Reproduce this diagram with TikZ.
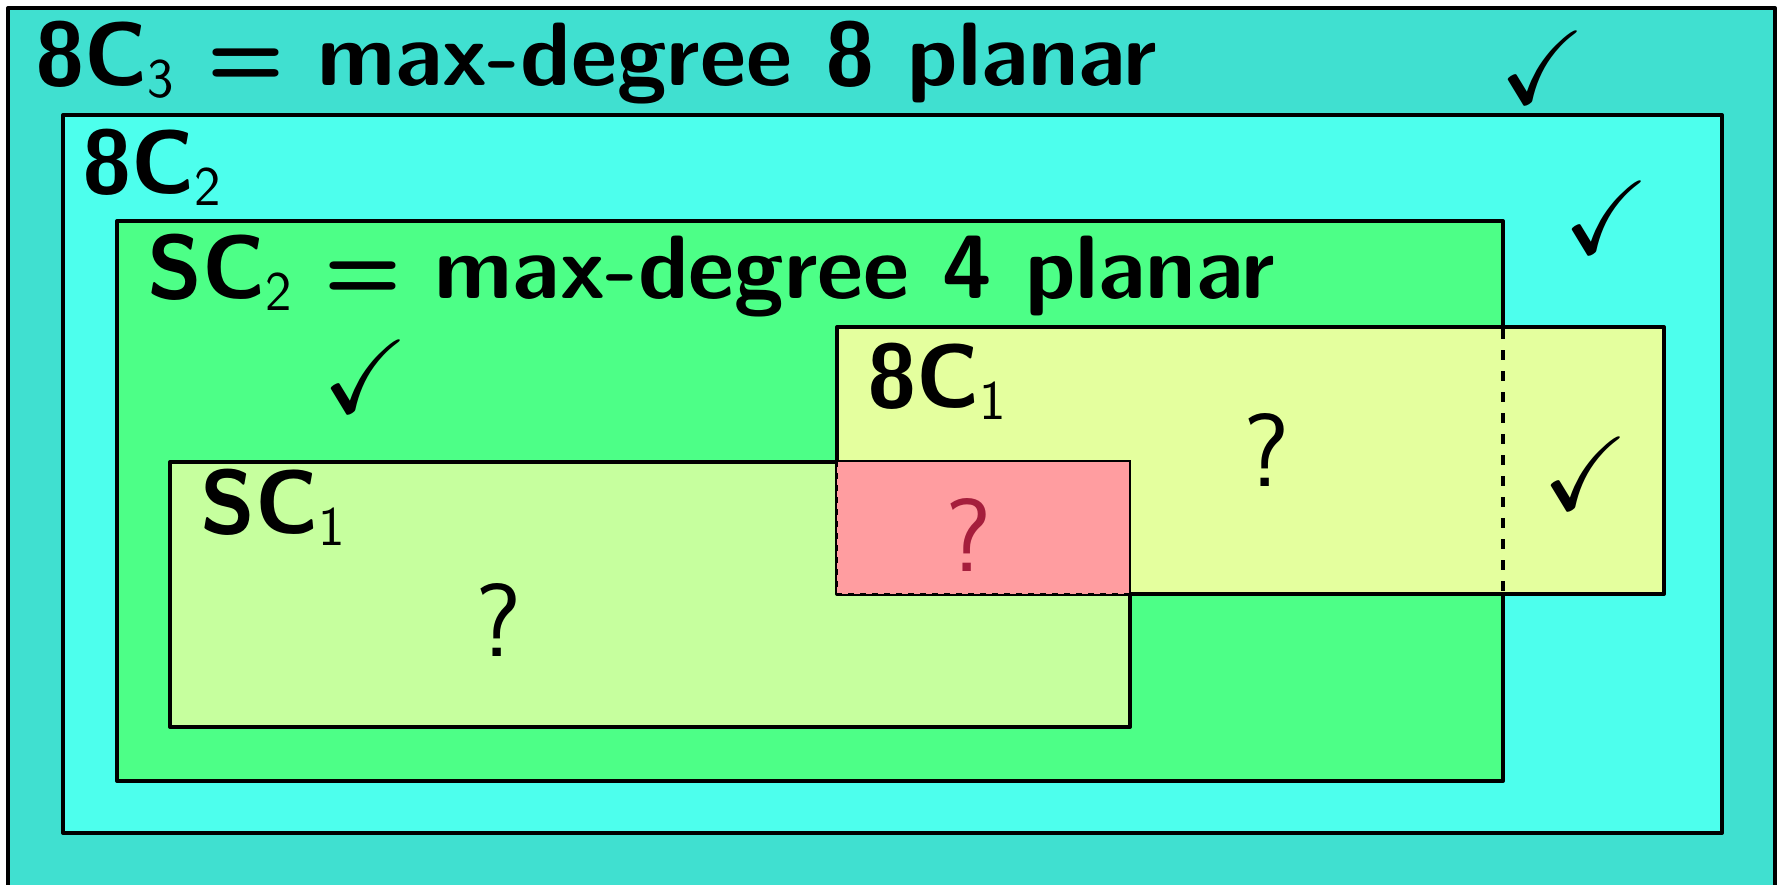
\documentclass[tikz,border=0pt]{standalone}
\usepackage{amssymb}
\usepackage{fontspec}
\definecolor{cOut}{RGB}{64,224,208}
\definecolor{cEightTwo}{RGB}{77,255,237}
\definecolor{cSCTwo}{RGB}{77,255,135}
\definecolor{cSCOne}{RGB}{198,255,158}
\definecolor{cEightOne}{RGB}{228,255,158}
\definecolor{cInter}{RGB}{255,157,160}
\definecolor{cQred}{RGB}{165,30,60}
\newcommand\mysub[1]{\raisebox{-12pt}{\fontsize{56}{60}\selectfont\mdseries #1}}
\tikzset{
  setbox/.style={draw=black,line width=4pt,line join=round},
  lbl/.style={anchor=base west,inner sep=0pt,font=\fontsize{90}{100}\selectfont\sffamily\bfseries},
  qm/.style={inner sep=0pt,font=\fontsize{104}{110}\selectfont\sffamily},
  chk/.style={inner sep=0pt,font=\fontsize{104}{110}\selectfont}
}
\begin{document}
\begin{tikzpicture}[x=1pt,y=-1pt]
\useasboundingbox (0,0) rectangle (1778,884);
% boxes
\path[setbox,fill=cOut] (8,8) rectangle (1775,900);
\path[setbox,fill=cEightTwo] (63,115) rectangle (1722,833);
\path[setbox,fill=cSCTwo] (117,221) rectangle (1503,781);
\path[setbox,fill=cSCOne] (170,462) rectangle (1130,727);
\path[setbox,fill=cEightOne] (837,327) rectangle (1664,594);
% SC2 right edge inside 8C1
\draw[line width=4pt,dash pattern=on 10pt off 11pt] (1503,329) -- (1503,592);
% intersection
\fill[cInter] (837,461) rectangle (1130,594);
\draw[line width=2pt] (837,461) -- (1130,461) -- (1130,594);
\draw[line width=2pt,dash pattern=on 6pt off 6pt] (837,461) -- (837,594) -- (1130,594);
% labels
\node[lbl] (l3) at (35,85) {8C\mysub{3} = max-degree 8 planar};
\node[lbl] (l2) at (82,193) {8C\mysub{2}};
\node[lbl] (ls2) at (147,298) {SC\mysub{2} = max-degree 4 planar};
\node[lbl] (ls1) at (200,533) {SC\mysub{1}};
\node[lbl] (l1) at (867,407) {8C\mysub{1}};
% question marks
\node[qm] (q1) at (1267,450) {?};
\node[qm] (qs1) at (499,620) {?};
\node[qm,text=cQred] (qi) at (969,535) {?};
% checkmarks
\node[chk] (c1) at (1543,67) {$\checkmark$};
\node[chk] (c2) at (1607,217) {$\checkmark$};
\node[chk] (c3) at (1586,473) {$\checkmark$};
\node[chk] (c4) at (366,376) {$\checkmark$};
\end{tikzpicture}
\end{document}
